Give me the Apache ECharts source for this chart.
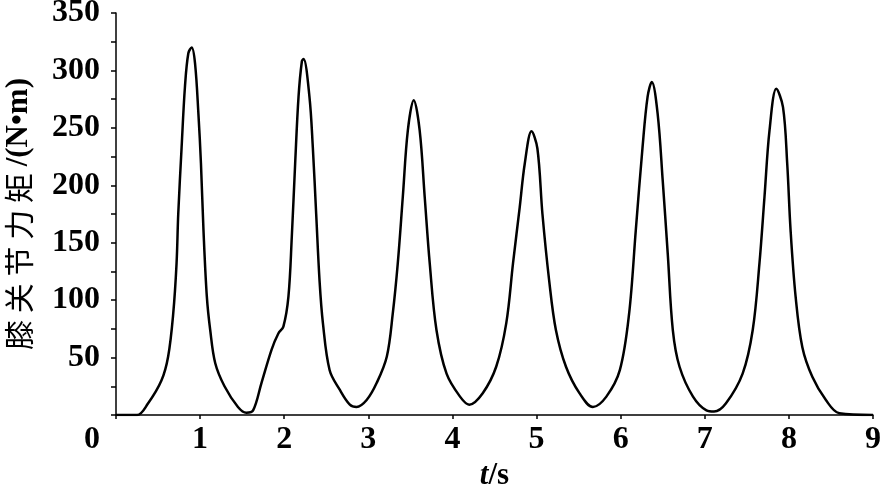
<!DOCTYPE html>
<html>
<head>
<meta charset="utf-8">
<script src="https://cdn.jsdelivr.net/npm/echarts@6/dist/echarts.min.js"></script>
<style>
html,body{margin:0;padding:0;background:#fff;}
#main{width:881px;height:494px;}
</style>
</head>
<body>
<div id="main"></div>
<script>
// time (s)
const timeS = [0, 0.25, 0.38, 0.54, 0.62, 0.68, 0.72, 0.74, 0.78, 0.82, 0.86, 0.90, 0.94, 0.98, 1.01, 1.04, 1.08, 1.12, 1.18, 1.29, 1.45, 1.55, 1.63, 1.73, 1.85, 1.93, 1.99, 2.05, 2.09, 2.13, 2.17, 2.21, 2.23, 2.30, 2.34, 2.38, 2.42, 2.46, 2.54, 2.66, 2.78, 2.86, 2.98, 3.10, 3.22, 3.29, 3.35, 3.41, 3.47, 3.54, 3.61, 3.67, 3.73, 3.81, 3.93, 4.09, 4.20, 4.36, 4.52, 4.64, 4.72, 4.80, 4.86, 4.94, 5.01, 5.07, 5.15, 5.23, 5.35, 5.51, 5.67, 5.83, 5.99, 6.10, 6.18, 6.26, 6.32, 6.37, 6.44, 6.50, 6.56, 6.62, 6.70, 6.86, 7.02, 7.11, 7.25, 7.45, 7.57, 7.65, 7.71, 7.77, 7.85, 7.93, 7.98, 8.02, 8.08, 8.16, 8.28, 8.44, 8.60, 9.0];
// knee joint torque (N·m)
const torque = [0, 0, 10, 30, 51, 88, 132, 175, 233, 286, 315, 320, 306, 262, 219, 161, 103, 74, 45, 25, 7, 2, 4, 28, 57, 71, 77, 103, 155, 219, 277, 308, 310, 277, 233, 175, 117, 80, 39, 22, 9, 7, 13, 28, 51, 88, 132, 190, 248, 274, 248, 190, 132, 74, 36, 16, 9, 19, 42, 80, 132, 181, 219, 247, 232, 175, 117, 74, 42, 19, 7, 16, 39, 88, 161, 233, 277, 290, 262, 204, 140, 74, 42, 16, 4, 3, 10, 36, 74, 132, 190, 248, 284, 268, 219, 161, 103, 59, 33, 13, 1.5, 0];
const xTicks = ['0','1','2','3','4','5','6','7','8','9'];
const yTicks = ['50','100','150','200','250','300','350'];

const chart = echarts.init(document.getElementById('main'));
const numFont = "'Times New Roman', 'Liberation Serif', serif";
const option = {
  animation: false,
  backgroundColor: '#ffffff',
  grid: {left: 116, right: 8, top: 13, bottom: 79, containLabel: false, outerBoundsMode: 'none'},
  xAxis: {
    type: 'value', min: 0, max: 9, interval: 1,
    axisLine: {lineStyle: {color: '#000', width: 1.5}},
    axisTick: {show: true, inside: false, length: 4, lineStyle: {color: '#000', width: 1.5}},
    splitLine: {show: false},
    axisLabel: {
      color: '#000', fontFamily: numFont, fontWeight: 'bold', fontSize: 32, margin: 9,
      formatter: v => (v === 0 ? '' : xTicks[Math.round(v)])
    },
    name: '{i|t}{n|/s}',
    nameLocation: 'middle', nameGap: 40,
    nameTextStyle: {
      rich: {
        i: {fontFamily: numFont, fontStyle: 'italic', fontWeight: 'bold', fontSize: 31, color: '#000'},
        n: {fontFamily: numFont, fontWeight: 'bold', fontSize: 31, color: '#000'}
      }
    }
  },
  yAxis: {
    type: 'value', min: 0, max: 350, interval: 25,
    axisLine: {show: true, lineStyle: {color: '#000', width: 1.5}},
    axisTick: {show: true, inside: false, length: 5, lineStyle: {color: '#000', width: 1.5}},
    splitLine: {show: false},
    axisLabel: {
      color: '#000', fontFamily: numFont, fontWeight: 'bold', fontSize: 32, margin: 16,
      formatter: v => (v % 50 === 0 && v > 0 ? yTicks[v / 50 - 1] : '')
    },
    name: '{c|膝 关 节 力 矩 }{l|/(N•m)}',
    nameLocation: 'middle', nameRotate: 90, nameGap: 82,
    nameTextStyle: {
      rich: {
        c: {color: '#000', fontSize: 30, fontFamily: "'Noto Sans CJK SC', sans-serif"},
        l: {color: '#000', fontSize: 31, fontWeight: 'bold', fontFamily: numFont}
      }
    }
  },
  graphic: [{
    type: 'text', left: 84, top: 424,
    style: {text: xTicks[0], font: "bold 32px 'Times New Roman', 'Liberation Serif', serif", fill: '#000'}
  }],
  series: [{
    type: 'line',
    data: timeS.map((t, i) => [t, torque[i]]),
    showSymbol: false,
    smooth: 0.35,
    lineStyle: {color: '#000', width: 2.5}
  }]
};
chart.setOption(option);
</script>
</body>
</html>
